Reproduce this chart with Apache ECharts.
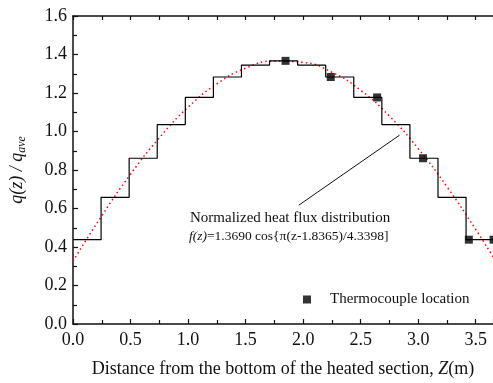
<!DOCTYPE html>
<html>
<head>
<meta charset="utf-8">
<script src="https://cdn.jsdelivr.net/npm/echarts@6/dist/echarts.min.js"></script>
<style>html,body{margin:0;padding:0;background:#fff}#c{width:493px;height:383px}</style>
</head>
<body>
<div id="c"></div>
<script>
// Step bins (left edges, last entry is right end of heated section)
var binEdges = [0, 0.244, 0.488, 0.732, 0.976, 1.220, 1.464, 1.708, 1.952, 2.196, 2.440, 2.684, 2.928, 3.172, 3.416, 3.66];
var binValues = [0.438, 0.658, 0.861, 1.036, 1.177, 1.283, 1.345, 1.367, 1.345, 1.283, 1.177, 1.036, 0.861, 0.658, 0.438];
// Thermocouple locations
var tcZ = [1.847, 2.240, 2.643, 3.042, 3.440, 3.655];
var tcQ = [1.367, 1.283, 1.177, 0.861, 0.438, 0.438];
// Red dotted fitted curve
var curveZ = [0, 0.25, 0.5, 0.75, 1.0, 1.25, 1.5, 1.75, 2.0, 2.25, 2.5, 2.75, 3.0, 3.25, 3.5, 3.65];
var curveQ = [0.327, 0.562, 0.778, 0.967, 1.126, 1.247, 1.329, 1.366, 1.359, 1.308, 1.214, 1.080, 0.911, 0.713, 0.491, 0.349];
// Axis ticks
var xTicks = [0, 0.5, 1.0, 1.5, 2.0, 2.5, 3.0, 3.5];
var yTicks = [0, 0.2, 0.4, 0.6, 0.8, 1.0, 1.2, 1.4, 1.6];

var FONT = '"Liberation Serif", "Times New Roman", serif';
var stepData = binEdges.map(function (z, i) {
  return [z, i < binValues.length ? binValues[i] : binValues[binValues.length - 1]];
});
var tcData = tcZ.map(function (z, i) { return [z, tcQ[i]]; });
var curveData = curveZ.map(function (z, i) { return [z, curveQ[i]]; });

var axisLine = { show: true, lineStyle: { color: '#111', width: 1.5 } };
var chart = echarts.init(document.getElementById('c'), null, { renderer: 'canvas' });
chart.setOption({
  animation: false,
  backgroundColor: '#fff',
  textStyle: { fontFamily: FONT },
  grid: { left: 72, right: 0, top: 16, bottom: 56, containLabel: false },
  legend: {
    data: [{ name: 'Thermocouple location', icon: 'rect' }],
    left: 298, top: 287,
    itemWidth: 8, itemHeight: 8,
    textStyle: { fontFamily: FONT, fontSize: 15, color: '#111', padding: [0, 0, 0, 14] }
  },
  xAxis: [{
    type: 'value', min: 0, max: 3.65, interval: 0.5,
    axisLine: axisLine,
    axisTick: { show: true, inside: true, length: 5, lineStyle: { color: '#111', width: 1.2 } },
    minorTick: { show: true, splitNumber: 2, length: 4, lineStyle: { color: '#111', width: 1.2 } },
    splitLine: { show: false },
    axisLabel: { showMaxLabel: false, margin: 7, fontFamily: FONT, fontSize: 18, color: '#111',
      formatter: function (v) { return xTicks.indexOf(Math.round(v * 10) / 10) >= 0 ? v.toFixed(1) : ''; } },
    name: 'Distance from the bottom of the heated section, {i|Z}(m)',
    nameLocation: 'middle', nameGap: 36,
    nameTextStyle: { fontFamily: FONT, fontSize: 18, color: '#111',
      rich: { i: { fontFamily: FONT, fontSize: 18, fontStyle: 'italic', color: '#111' } } }
  }, {
    type: 'value', min: 0, max: 3.65, interval: 0.25, position: 'top',
    axisLine: axisLine,
    axisTick: { show: true, inside: true, length: 4, lineStyle: { color: '#111', width: 1.2 } },
    axisLabel: { show: false }, splitLine: { show: false }
  }],
  yAxis: [{
    type: 'value', min: 0, max: 1.6, interval: 0.2,
    axisLine: axisLine,
    axisTick: { show: true, inside: true, length: 5, lineStyle: { color: '#111', width: 1.2 } },
    minorTick: { show: true, splitNumber: 2, length: 4, lineStyle: { color: '#111', width: 1.2 } },
    splitLine: { show: false },
    axisLabel: { margin: 6, fontFamily: FONT, fontSize: 18, color: '#111',
      formatter: function (v) { return v.toFixed(1); } },
    name: '{i|q(z) / q}{sub|ave}',
    nameLocation: 'middle', nameGap: 45, nameRotate: 90,
    nameTextStyle: { fontFamily: FONT, fontSize: 18, color: '#111',
      rich: {
        i: { fontFamily: FONT, fontSize: 18, fontStyle: 'italic', color: '#111', lineHeight: 22 },
        sub: { fontFamily: FONT, fontSize: 12, fontStyle: 'italic', color: '#111', verticalAlign: 'bottom', lineHeight: 22 }
      } }
  }],
  graphic: [{
    type: 'text', left: 190, top: 211, silent: true,
    style: { text: 'Normalized heat flux distribution', font: '15px ' + FONT, fill: '#111' }
  }, {
    type: 'text', left: 189, top: 229, silent: true,
    style: {
      text: '{i|f(z)}=1.3690 cos{π(z-1.8365)/4.3398]',
      font: '13.5px ' + FONT, fill: '#111',
      rich: { i: { font: 'italic 13.5px ' + FONT, fill: '#111' } }
    }
  }],
  series: [{
    type: 'line', name: 'step', step: 'end', data: stepData,
    symbol: 'none', lineStyle: { color: '#000', width: 1.2 }, z: 3,
    markLine: {
      silent: true, symbol: ['none', 'arrow'], symbolSize: [0, 9],
      label: { show: false },
      lineStyle: { color: '#111', width: 1, type: 'solid' },
      data: [[{ coord: [1.962, 0.617] }, { coord: [2.838, 0.981] }]]
    }
  }, {
    type: 'line', name: 'fit', data: curveData, smooth: true,
    symbol: 'none', lineStyle: { color: '#ff0000', width: 1.5, type: [1.5, 3] }, z: 2
  }, {
    type: 'scatter', name: 'Thermocouple location', data: tcData, clip: false,
    symbol: 'rect', symbolSize: 8, itemStyle: { color: '#000' }, z: 4
  }]
});
</script>
</body>
</html>
